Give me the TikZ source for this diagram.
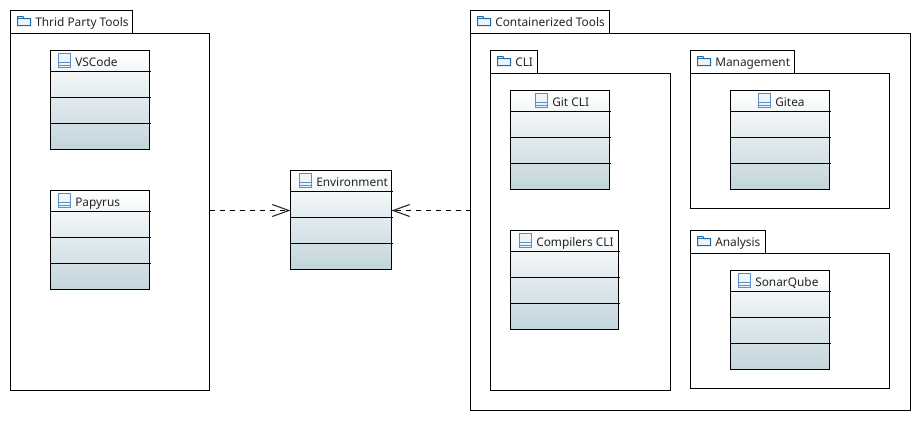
\documentclass[tikz,border=0pt]{standalone}
\usepackage{fontspec}
\setmainfont{Noto Sans}
\usetikzlibrary{arrows.meta,calc}
\definecolor{folderblue}{HTML}{1F6AA8}
\definecolor{classblue}{HTML}{5B8FC8}
\definecolor{iconfill}{HTML}{EDF4FA}
\definecolor{gradtop}{HTML}{FFFFFF}
\definecolor{gradbot}{HTML}{C3D5DC}
\tikzset{
  x=0.75pt,y=-0.75pt,
  outline/.style={draw=black,line width=0.75pt,fill=white,inner sep=0pt,outer sep=0pt,anchor=north west},
  labeltext/.style={inner sep=0pt,anchor=base west,font=\fontsize{8.9}{11}\selectfont,text=black!85},
  foldericon/.style={draw=folderblue,line width=0.75pt,fill=iconfill},
  classicon/.style={draw=classblue,line width=0.75pt},
  dep/.style={draw=black,line width=0.75pt,dash pattern=on 3.75pt off 3.75pt,
    -{Straight Barb[length=12.5pt,width=9pt,line width=0.8pt,black!85]}},
  sep/.style={draw=black,line width=0.75pt}
}
% #1 name, #2 x, #3 y, #4 tab w, #5 tab h, #6 body w, #7 body h, #8 label
\newcommand{\pkgbox}[8]{%
  \node[outline,minimum width=#4*0.75pt,minimum height=#5*0.75pt] (#1tab) at (#2+.5,#3+.5) {};
  \node[outline,minimum width=#6*0.75pt,minimum height=#7*0.75pt] (#1) at (#2+.5,#3+#5+.5) {};
  \draw[foldericon] (#2+7.5,#3+6.5) -- (#2+7.5,#3+15.5) -- (#2+20.5,#3+15.5) -- (#2+20.5,#3+8.5) -- (#2+14,#3+8.5) -- (#2+13,#3+6.5) -- cycle;
  \draw[foldericon] (#2+7.5,#3+8.5) -- (#2+20.5,#3+8.5);
  \node[labeltext] (#1text) at (#2+25,#3+16.5) {#8};
}
% #1 name, #2 x, #3 y, #4 w, #5 text x offset, #6 label
\newcommand{\classbox}[6]{%
  \node[outline,minimum width=#4*0.75pt,minimum height=99*0.75pt] (#1) at (#2+.5,#3+.5) {};
  \fill[top color=gradtop,bottom color=gradbot] (#2+1,#3+1) rectangle (#2+#4,#3+99);
  \draw[black,line width=0.75pt] (#1.north west) rectangle (#1.south east);
  \draw[sep] (#2+.5,#3+21.5) -- (#2+#4+1.5,#3+21.5);
  \draw[sep] (#2+.5,#3+47.5) -- (#2+#4+1.5,#3+47.5);
  \draw[sep] (#2+.5,#3+73.5) -- (#2+#4+1.5,#3+73.5);
  \draw[classicon,fill=iconfill] (#2+#5-16.5,#3+3.5) rectangle (#2+#5-4.5,#3+17.5);
  \draw[classicon] (#2+#5-16.5,#3+12.5) -- (#2+#5-4.5,#3+12.5);
  \draw[classicon] (#2+#5-16.5,#3+15) -- (#2+#5-4.5,#3+15);
  \node[labeltext] (#1text) at (#2+#5,#3+16) {#6};
}
\begin{document}
\begin{tikzpicture}
\useasboundingbox (0,0) rectangle (921,421);
\fill[white] (0,0) rectangle (921,421);
\pkgbox{third}{10}{10}{122}{23}{199}{357}{Thrid Party Tools}
\pkgbox{cont}{470}{10}{139}{23}{440}{377}{Containerized Tools}
\pkgbox{cli}{490}{50}{47}{23}{180}{317}{CLI}
\pkgbox{mgmt}{690}{50}{104}{23}{199}{135}{Management}
\pkgbox{analysis}{690}{230}{75}{23}{199}{135}{Analysis}
\classbox{vscode}{50}{50}{99}{25}{VSCode}
\classbox{papyrus}{50}{190}{99}{25}{Papyrus}
\classbox{env}{290}{170}{101}{26}{Environment}
\classbox{git}{510}{90}{99}{42}{Git CLI}
\classbox{comp}{510}{230}{108}{26}{Compilers CLI}
\classbox{gitea}{730}{90}{99}{45}{Gitea}
\classbox{sonar}{730}{270}{99}{25}{SonarQube}
\coordinate (depy) at (0,210.5);
\draw[dep] (third.east |- depy) -- (env.west |- depy);
\draw[dep] (cont.west |- depy) -- (env.east |- depy);
\end{tikzpicture}
\end{document}
